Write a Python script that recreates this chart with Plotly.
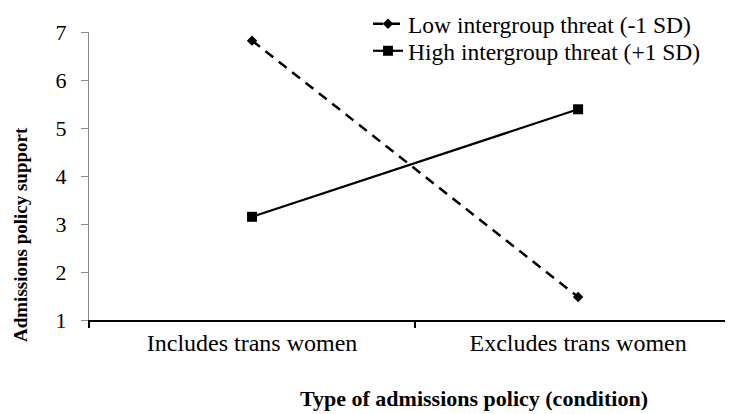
import plotly.graph_objects as go

categories = ["Includes trans women", "Excludes trans women"]
low_threat = [6.82, 1.48]
high_threat = [3.15, 5.39]
series_names = ["Low intergroup threat (-1 SD)", "High intergroup threat (+1 SD)"]
y_ticks = [1, 2, 3, 4, 5, 6, 7]

FONT = "Liberation Serif, Times New Roman, serif"
OFF = 8  # default page body margin
W, H = 733 - OFF, 414 - OFF
ML, MR, MT, MB = 89 - OFF, 0, 32 - OFF, 94
PW, PH = W - ML - MR, H - MT - MB

def px2paper_x(px):
    # px measured in page pixels
    return (px - OFF - ML) / PW

def px2paper_y(py):
    return (H - MB - (py - OFF)) / PH

fig = go.Figure()
fig.add_trace(go.Scatter(
    x=categories, y=low_threat, name=series_names[0], mode="lines+markers",
    line=dict(color="black", width=2.5, dash="10px,7px"),
    marker=dict(symbol="diamond", size=8, color="black"),
    legend="legend",
))
fig.add_trace(go.Scatter(
    x=categories, y=high_threat, name=series_names[1], mode="lines+markers",
    line=dict(color="black", width=2.2),
    marker=dict(symbol="square", size=10, color="black"),
    legend="legend2",
))

leg_common = dict(
    xanchor="left", yanchor="middle",
    font=dict(family=FONT, size=23.5, color="black"),
    bgcolor="rgba(0,0,0,0)", itemwidth=30,
)

fig.update_layout(
    width=W, height=H,
    margin=dict(l=ML, r=MR, t=MT, b=MB, autoexpand=False),
    paper_bgcolor="white", plot_bgcolor="white",
    font=dict(family=FONT, color="black"),
    showlegend=True,
    legend=dict(x=px2paper_x(368), y=px2paper_y(24), **leg_common),
    legend2=dict(x=px2paper_x(368), y=px2paper_y(51), **leg_common),
    xaxis=dict(
        type="category", range=[-0.5, 1.475],
        showline=True, linecolor="black", linewidth=2,
        ticks="outside", tickson="boundaries", ticklen=6, tickcolor="black", tickwidth=1.5,
        tickfont=dict(family=FONT, size=24, color="black"),
        showgrid=False, zeroline=False,
    ),
    yaxis=dict(
        range=[1, 7], tickvals=y_ticks,
        showline=True, linecolor="#888888", linewidth=1,
        ticks="outside", ticklen=7, tickcolor="#888888", tickwidth=1,
        tickfont=dict(family=FONT, size=22, color="black"),
        ticklabelstandoff=10,
        showgrid=False, zeroline=False,
    ),
    annotations=[
        dict(text="<b>Admissions policy support</b>", textangle=-90,
             x=px2paper_x(20), y=px2paper_y(235), xref="paper", yref="paper",
             xanchor="center", yanchor="middle", showarrow=False,
             font=dict(family=FONT, size=19, color="black")),
        dict(text="<b>Type of admissions policy (condition)</b>",
             x=px2paper_x(474), y=px2paper_y(398), xref="paper", yref="paper",
             xanchor="center", yanchor="middle", showarrow=False,
             font=dict(family=FONT, size=22, color="black")),
    ],
)

fig.write_html("out.html")
